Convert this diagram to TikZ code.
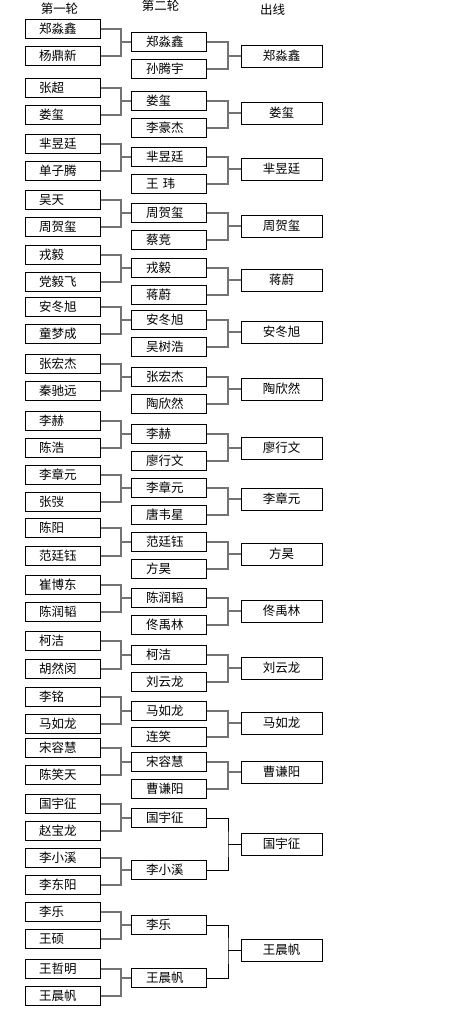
\documentclass[tikz,border=0pt]{standalone}
\usepackage{fontspec}
\setmainfont{Noto Sans CJK SC}
\usepackage{tikz}

\begin{document}
\begin{tikzpicture}[
x=1pt,y=-1pt,
box/.style={draw,line width=1pt,inner ysep=0pt,minimum height=19pt,font=\fontsize{12.5pt}{14pt}\selectfont},
boxone/.style={box,minimum width=75pt,inner xsep=14pt,text width=47pt,align=left},
boxtwo/.style={box,minimum width=75pt,inner xsep=15pt,text width=45pt,align=left},
boxout/.style={box,minimum width=81pt,minimum height=22pt,inner xsep=2pt},
head/.style={font=\fontsize{12.5pt}{14pt}\selectfont,inner sep=0pt},
link/.style={draw=black!55,line width=1.2pt},
linkdark/.style={draw=black,line width=0.9pt}
]
\useasboundingbox (0,0) rectangle (462,1013);
\node[head] (head1) at (59.5,9) {第一轮};
\node[head] (head2) at (160.5,6) {第二轮};
\node[head] (head3) at (272.5,9.5) {出线};
% first round
\node[boxone] (a1) at (62.5,29) {郑淼鑫};
\node[boxone] (a2) at (62.5,56) {杨鼎新};
\node[boxone] (a3) at (62.5,88) {张超};
\node[boxone] (a4) at (62.5,115) {娄玺};
\node[boxone] (a5) at (62.5,144) {芈昱廷};
\node[boxone] (a6) at (62.5,171) {单子腾};
\node[boxone] (a7) at (62.5,200) {吴天};
\node[boxone] (a8) at (62.5,227) {周贺玺};
\node[boxone] (a9) at (62.5,255) {戎毅};
\node[boxone] (a10) at (62.5,282) {党毅飞};
\node[boxone] (a11) at (62.5,307) {安冬旭};
\node[boxone] (a12) at (62.5,334) {童梦成};
\node[boxone] (a13) at (62.5,364) {张宏杰};
\node[boxone] (a14) at (62.5,391) {秦驰远};
\node[boxone] (a15) at (62.5,421) {李赫};
\node[boxone] (a16) at (62.5,448) {陈浩};
\node[boxone] (a17) at (62.5,475) {李章元};
\node[boxone] (a18) at (62.5,502) {张弢};
\node[boxone] (a19) at (62.5,528) {陈阳};
\node[boxone] (a20) at (62.5,556) {范廷钰};
\node[boxone] (a21) at (62.5,585) {崔博东};
\node[boxone] (a22) at (62.5,612) {陈润韬};
\node[boxone] (a23) at (62.5,641) {柯洁};
\node[boxone] (a24) at (62.5,669) {胡然闵};
\node[boxone] (a25) at (62.5,697) {李铭};
\node[boxone] (a26) at (62.5,724) {马如龙};
\node[boxone] (a27) at (62.5,748) {宋容慧};
\node[boxone] (a28) at (62.5,775) {陈笑天};
\node[boxone] (a29) at (62.5,804) {国宇征};
\node[boxone] (a30) at (62.5,831) {赵宝龙};
\node[boxone] (a31) at (62.5,858) {李小溪};
\node[boxone] (a32) at (62.5,885) {李东阳};
\node[boxone] (a33) at (62.5,912) {李乐};
\node[boxone] (a34) at (62.5,939) {王硕};
\node[boxone] (a35) at (62.5,969) {王哲明};
\node[boxone] (a36) at (62.5,996) {王晨帆};
% second round
\node[boxtwo] (b1) at (168.5,42) {郑淼鑫};
\node[boxtwo] (b2) at (168.5,69) {孙腾宇};
\node[boxtwo] (b3) at (168.5,101) {娄玺};
\node[boxtwo] (b4) at (168.5,128) {李豪杰};
\node[boxtwo] (b5) at (168.5,157) {芈昱廷};
\node[boxtwo] (b6) at (168.5,184) {王\ 玮};
\node[boxtwo] (b7) at (168.5,213) {周贺玺};
\node[boxtwo] (b8) at (168.5,240) {蔡竞};
\node[boxtwo] (b9) at (168.5,268) {戎毅};
\node[boxtwo] (b10) at (168.5,295) {蒋蔚};
\node[boxtwo] (b11) at (168.5,320) {安冬旭};
\node[boxtwo] (b12) at (168.5,347) {吴树浩};
\node[boxtwo] (b13) at (168.5,377) {张宏杰};
\node[boxtwo] (b14) at (168.5,404) {陶欣然};
\node[boxtwo] (b15) at (168.5,434) {李赫};
\node[boxtwo] (b16) at (168.5,461) {廖行文};
\node[boxtwo] (b17) at (168.5,488) {李章元};
\node[boxtwo] (b18) at (168.5,515) {唐韦星};
\node[boxtwo] (b19) at (168.5,542) {范廷钰};
\node[boxtwo] (b20) at (168.5,569) {方昊};
\node[boxtwo] (b21) at (168.5,598) {陈润韬};
\node[boxtwo] (b22) at (168.5,625) {佟禹林};
\node[boxtwo] (b23) at (168.5,655) {柯洁};
\node[boxtwo] (b24) at (168.5,682) {刘云龙};
\node[boxtwo] (b25) at (168.5,711) {马如龙};
\node[boxtwo] (b26) at (168.5,737) {连笑};
\node[boxtwo] (b27) at (168.5,762) {宋容慧};
\node[boxtwo] (b28) at (168.5,789) {曹谦阳};
\node[boxtwo] (b29) at (168.5,818) {国宇征};
\node[boxtwo] (b30) at (168.5,870) {李小溪};
\node[boxtwo] (b31) at (168.5,925) {李乐};
\node[boxtwo] (b32) at (168.5,978) {王晨帆};
% qualified
\node[boxout] (c1) at (281.5,56) {郑淼鑫};
\node[boxout] (c2) at (281.5,113) {娄玺};
\node[boxout] (c3) at (281.5,169) {芈昱廷};
\node[boxout] (c4) at (281.5,226) {周贺玺};
\node[boxout] (c5) at (281.5,280) {蒋蔚};
\node[boxout] (c6) at (281.5,332) {安冬旭};
\node[boxout] (c7) at (281.5,389) {陶欣然};
\node[boxout] (c8) at (281.5,448) {廖行文};
\node[boxout] (c9) at (281.5,499) {李章元};
\node[boxout] (c10) at (281.5,554) {方昊};
\node[boxout] (c11) at (281.5,611) {佟禹林};
\node[boxout] (c12) at (281.5,668) {刘云龙};
\node[boxout] (c13) at (281.5,723) {马如龙};
\node[boxout] (c14) at (281.5,772) {曹谦阳};
\node[boxout] (c15) at (281.5,844) {国宇征};
\node[boxout] (c16) at (281.5,950) {王晨帆};
\coordinate (j1) at (121,0);
\coordinate (j2) at (228,0);
% round one to round two
\draw[link] (a1.east) -| (j1 |- b1.west) |- (a2.east) (j1 |- b1.west) -- (b1.west);
\draw[link] (a3.east) -| (j1 |- b3.west) |- (a4.east) (j1 |- b3.west) -- (b3.west);
\draw[link] (a5.east) -| (j1 |- b5.west) |- (a6.east) (j1 |- b5.west) -- (b5.west);
\draw[link] (a7.east) -| (j1 |- b7.west) |- (a8.east) (j1 |- b7.west) -- (b7.west);
\draw[link] (a9.east) -| (j1 |- b9.west) |- (a10.east) (j1 |- b9.west) -- (b9.west);
\draw[link] (a11.east) -| (j1 |- b11.west) |- (a12.east) (j1 |- b11.west) -- (b11.west);
\draw[link] (a13.east) -| (j1 |- b13.west) |- (a14.east) (j1 |- b13.west) -- (b13.west);
\draw[link] (a15.east) -| (j1 |- b15.west) |- (a16.east) (j1 |- b15.west) -- (b15.west);
\draw[link] (a17.east) -| (j1 |- b17.west) |- (a18.east) (j1 |- b17.west) -- (b17.west);
\draw[link] (a19.east) -| (j1 |- b19.west) |- (a20.east) (j1 |- b19.west) -- (b19.west);
\draw[link] (a21.east) -| (j1 |- b21.west) |- (a22.east) (j1 |- b21.west) -- (b21.west);
\draw[link] (a23.east) -| (j1 |- b23.west) |- (a24.east) (j1 |- b23.west) -- (b23.west);
\draw[link] (a25.east) -| (j1 |- b25.west) |- (a26.east) (j1 |- b25.west) -- (b25.west);
\draw[link] (a27.east) -| (j1 |- b27.west) |- (a28.east) (j1 |- b27.west) -- (b27.west);
\draw[link] (a29.east) -| (j1 |- b29.west) |- (a30.east) (j1 |- b29.west) -- (b29.west);
\draw[link] (a31.east) -| (j1 |- b30.west) |- (a32.east) (j1 |- b30.west) -- (b30.west);
\draw[link] (a33.east) -| (j1 |- b31.west) |- (a34.east) (j1 |- b31.west) -- (b31.west);
\draw[link] (a35.east) -| (j1 |- b32.west) |- (a36.east) (j1 |- b32.west) -- (b32.west);
% round two to qualified
\draw[link] (b1.east) -| (j2 |- c1.west) |- (b2.east) (j2 |- c1.west) -- (c1.west);
\draw[link] (b3.east) -| (j2 |- c2.west) |- (b4.east) (j2 |- c2.west) -- (c2.west);
\draw[link] (b5.east) -| (j2 |- c3.west) |- (b6.east) (j2 |- c3.west) -- (c3.west);
\draw[link] (b7.east) -| (j2 |- c4.west) |- (b8.east) (j2 |- c4.west) -- (c4.west);
\draw[link] (b9.east) -| (j2 |- c5.west) |- (b10.east) (j2 |- c5.west) -- (c5.west);
\draw[link] (b11.east) -| (j2 |- c6.west) |- (b12.east) (j2 |- c6.west) -- (c6.west);
\draw[link] (b13.east) -| (j2 |- c7.west) |- (b14.east) (j2 |- c7.west) -- (c7.west);
\draw[link] (b15.east) -| (j2 |- c8.west) |- (b16.east) (j2 |- c8.west) -- (c8.west);
\draw[link] (b17.east) -| (j2 |- c9.west) |- (b18.east) (j2 |- c9.west) -- (c9.west);
\draw[link] (b19.east) -| (j2 |- c10.west) |- (b20.east) (j2 |- c10.west) -- (c10.west);
\draw[link] (b21.east) -| (j2 |- c11.west) |- (b22.east) (j2 |- c11.west) -- (c11.west);
\draw[link] (b23.east) -| (j2 |- c12.west) |- (b24.east) (j2 |- c12.west) -- (c12.west);
\draw[link] (b25.east) -| (j2 |- c13.west) |- (b26.east) (j2 |- c13.west) -- (c13.west);
\draw[link] (b27.east) -| (j2 |- c14.west) |- (b28.east) (j2 |- c14.west) -- (c14.west);
\draw[linkdark] (b29.east) -| (j2 |- c15.west) |- (b30.east) (j2 |- c15.west) -- (c15.west);
\draw[linkdark] (b31.east) -| (j2 |- c16.west) |- (b32.east) (j2 |- c16.west) -- (c16.west);
\end{tikzpicture}
\end{document}
